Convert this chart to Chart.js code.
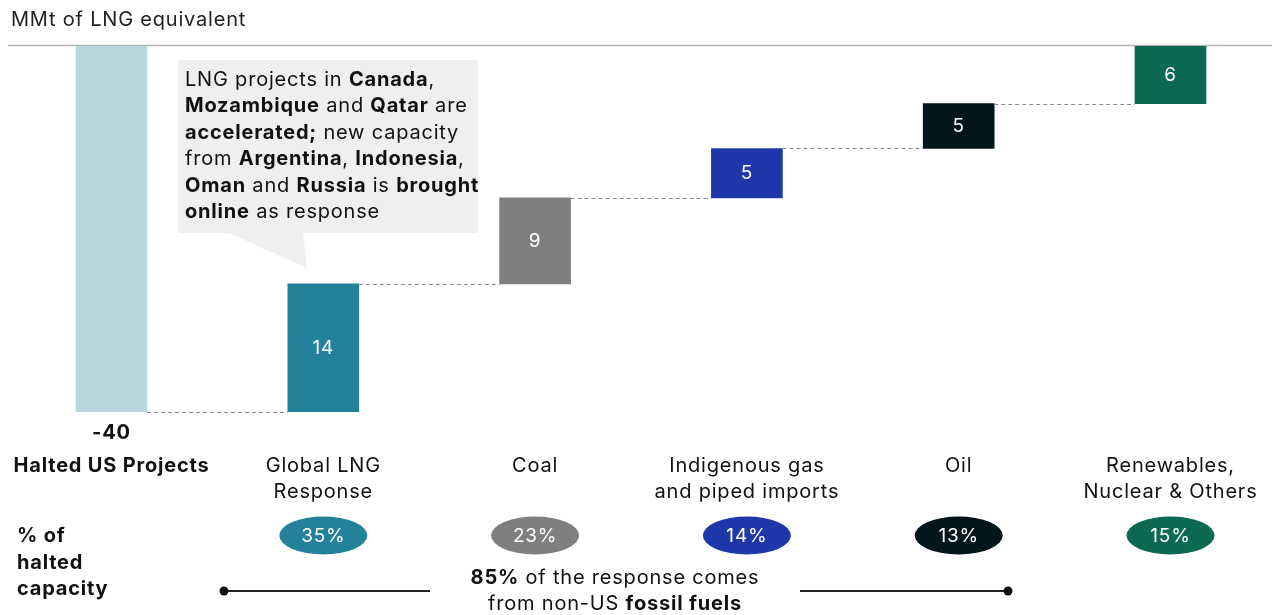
<!DOCTYPE html>
<html>
<head>
<meta charset="utf-8">
<script src="https://cdn.jsdelivr.net/npm/chart.js@4/dist/chart.umd.min.js"></script>
<style>
html,body{margin:0;padding:0;background:#fff;}
#wrap{width:1272px;height:615px;position:relative;}
</style>
</head>
<body>
<div id="wrap"><canvas id="c" width="1272" height="615"></canvas></div>
<script>
// ---- data ----
const categories = [['Halted US Projects'], ['Global LNG', 'Response'], ['Coal'], ['Indigenous gas', 'and piped imports'], ['Oil'], ['Renewables,', 'Nuclear & Others']];
const changes = [-40, 14, 9.4, 5.4, 4.9, 6.3];
const valueLabels = ['-40', '14', '9', '5', '5', '6'];
const shareLabels = [null, '35%', '23%', '14%', '13%', '15%'];
const yTitle = 'MMt of LNG equivalent';

// ---- styles ----
const barColors = ['#b7d6de', '#23819a', '#7f7f82', '#1e38aa', '#03151c', '#0c6a52'];
const FONT = 'Inter';
const SPACING = '0.8px';

let run = 0;
const ranges = changes.map(c => { const s = run; run += c; return [s, run]; });
const points = ranges.map((r, i) => ({ x: i, y: r }));

function f(size, bold) { return (bold ? 'bold ' : '') + size + 'px "' + FONT + '"'; }
function richWidth(ctx, segs, size) {
  let w = 0;
  segs.forEach(s => { ctx.font = f(size, s[1]); w += ctx.measureText(s[0]).width; });
  return w;
}
function drawRich(ctx, segs, x, y, size, align, color) {
  let w = richWidth(ctx, segs, size);
  let cx = align === 'center' ? x - w / 2 : x;
  ctx.textAlign = 'left';
  ctx.textBaseline = 'middle';
  ctx.fillStyle = color;
  segs.forEach(s => {
    ctx.font = f(size, s[1]);
    ctx.fillText(s[0], cx, y);
    cx += ctx.measureText(s[0]).width;
  });
}

const calloutLines = [
  [['LNG projects in ', 0], ['Canada', 1], [',', 0]],
  [['Mozambique', 1], [' and ', 0], ['Qatar', 1], [' are', 0]],
  [['accelerated;', 1], [' new capacity', 0]],
  [['from ', 0], ['Argentina', 1], [', ', 0], ['Indonesia', 1], [',', 0]],
  [['Oman', 1], [' and ', 0], ['Russia', 1], [' is ', 0], ['brought', 1]],
  [['online', 1], [' as response', 0]]
];

const deco = {
  id: 'deco',
  beforeDraw(chart) {
    chart.ctx.letterSpacing = SPACING;
  },
  beforeDatasetsDraw(chart) {
    const ctx = chart.ctx;
    const ys = chart.scales.y;
    ctx.save();
    ctx.fillStyle = '#222';
    ctx.font = f(20);
    ctx.textAlign = 'left';
    ctx.textBaseline = 'middle';
    ctx.fillText(yTitle, 11, 20);
    ctx.strokeStyle = '#b3b3b3';
    ctx.lineWidth = 1.5;
    ctx.beginPath();
    ctx.moveTo(8, ys.getPixelForValue(0) - 0.5);
    ctx.lineTo(1272, ys.getPixelForValue(0) - 0.5);
    ctx.stroke();
    ctx.restore();
  },
  afterDatasetsDraw(chart) {
    const ctx = chart.ctx;
    const meta = chart.getDatasetMeta(0);
    const ys = chart.scales.y;
    ctx.save();
    ctx.strokeStyle = '#8a8a8a';
    ctx.lineWidth = 1;
    ctx.setLineDash([4, 3]);
    for (let i = 0; i < meta.data.length - 1; i++) {
      const a = meta.data[i], b = meta.data[i + 1];
      const y = Math.round(ys.getPixelForValue(ranges[i][1])) + 0.5;
      ctx.beginPath();
      ctx.moveTo(a.x + a.width / 2, y);
      ctx.lineTo(b.x - b.width / 2, y);
      ctx.stroke();
    }
    ctx.setLineDash([]);
    meta.data.forEach((bar, i) => {
      ctx.textAlign = 'center';
      ctx.textBaseline = 'middle';
      if (i === 0) {
        ctx.fillStyle = '#111';
        ctx.font = f(20, true);
        ctx.fillText(valueLabels[i], bar.x, ys.getPixelForValue(ranges[i][1]) + 21);
      } else {
        ctx.fillStyle = '#fff';
        ctx.font = f(19);
        ctx.fillText(valueLabels[i], bar.x, (bar.y + bar.base) / 2);
      }
    });
    meta.data.forEach((bar, i) => {
      if (!shareLabels[i]) return;
      ctx.fillStyle = barColors[i];
      ctx.beginPath();
      ctx.ellipse(bar.x, 535.5, 44, 19, 0, 0, Math.PI * 2);
      ctx.fill();
      ctx.fillStyle = '#fff';
      ctx.font = f(19);
      ctx.textAlign = 'center';
      ctx.textBaseline = 'middle';
      ctx.fillText(shareLabels[i], bar.x, 536);
    });
    ctx.fillStyle = '#111';
    ctx.font = f(20, true);
    ctx.textAlign = 'left';
    ctx.textBaseline = 'middle';
    ['% of', 'halted', 'capacity'].forEach((t, k) => ctx.fillText(t, 17, 536 + k * 26.5));
    ctx.strokeStyle = '#222';
    ctx.lineWidth = 2;
    ctx.beginPath();
    ctx.moveTo(224, 591); ctx.lineTo(430, 591);
    ctx.moveTo(800, 591); ctx.lineTo(1008, 591);
    ctx.stroke();
    ctx.fillStyle = '#111';
    [224, 1008].forEach(x => { ctx.beginPath(); ctx.arc(x, 591, 4.5, 0, Math.PI * 2); ctx.fill(); });
    drawRich(ctx, [['85%', 1], [' of the response comes', 0]], 615, 578, 20, 'center', '#111');
    drawRich(ctx, [['from non-US ', 0], ['fossil fuels', 1]], 615, 604, 20, 'center', '#111');
    ctx.fillStyle = '#efefef';
    ctx.beginPath();
    ctx.rect(178, 60, 300, 173);
    ctx.fill();
    ctx.beginPath();
    ctx.moveTo(229, 233); ctx.lineTo(303, 233); ctx.lineTo(307, 268); ctx.closePath();
    ctx.fill();
    calloutLines.forEach((segs, k) => drawRich(ctx, segs, 185, 80 + k * 26.4, 20, 'left', '#111'));
    ctx.restore();
  }
};

const pxPerCat = 211.8;
new Chart(document.getElementById('c'), {
  type: 'bar',
  data: {
    datasets: [{
      data: points,
      backgroundColor: barColors,
      borderWidth: 0,
      barThickness: 71
    }]
  },
  options: {
    responsive: false,
    animation: false,
    layout: { padding: { top: 46, left: 0, right: 0, bottom: 0 } },
    plugins: { legend: { display: false }, tooltip: { enabled: false } },
    scales: {
      x: {
        type: 'linear',
        offset: false,
        min: -111.5 / pxPerCat,
        max: 5 + (1272 - 1170.5) / pxPerCat,
        grid: { display: false, drawTicks: false },
        border: { display: false },
        afterBuildTicks: s => { s.ticks = categories.map((_, i) => ({ value: i })); },
        afterFit: s => { s.height = 203; s.paddingLeft = 0; s.paddingRight = 0; },
        ticks: {
          autoSkip: false,
          maxRotation: 0,
          padding: 41,
          color: '#111',
          font: ctx => ({ family: FONT, size: 20, lineHeight: 1.3, weight: ctx.index === 0 ? 'bold' : 'normal' }),
          callback: v => categories[v]
        }
      },
      y: {
        display: false,
        min: -40,
        max: 0
      }
    }
  },
  plugins: [deco]
});
</script>
</body>
</html>
